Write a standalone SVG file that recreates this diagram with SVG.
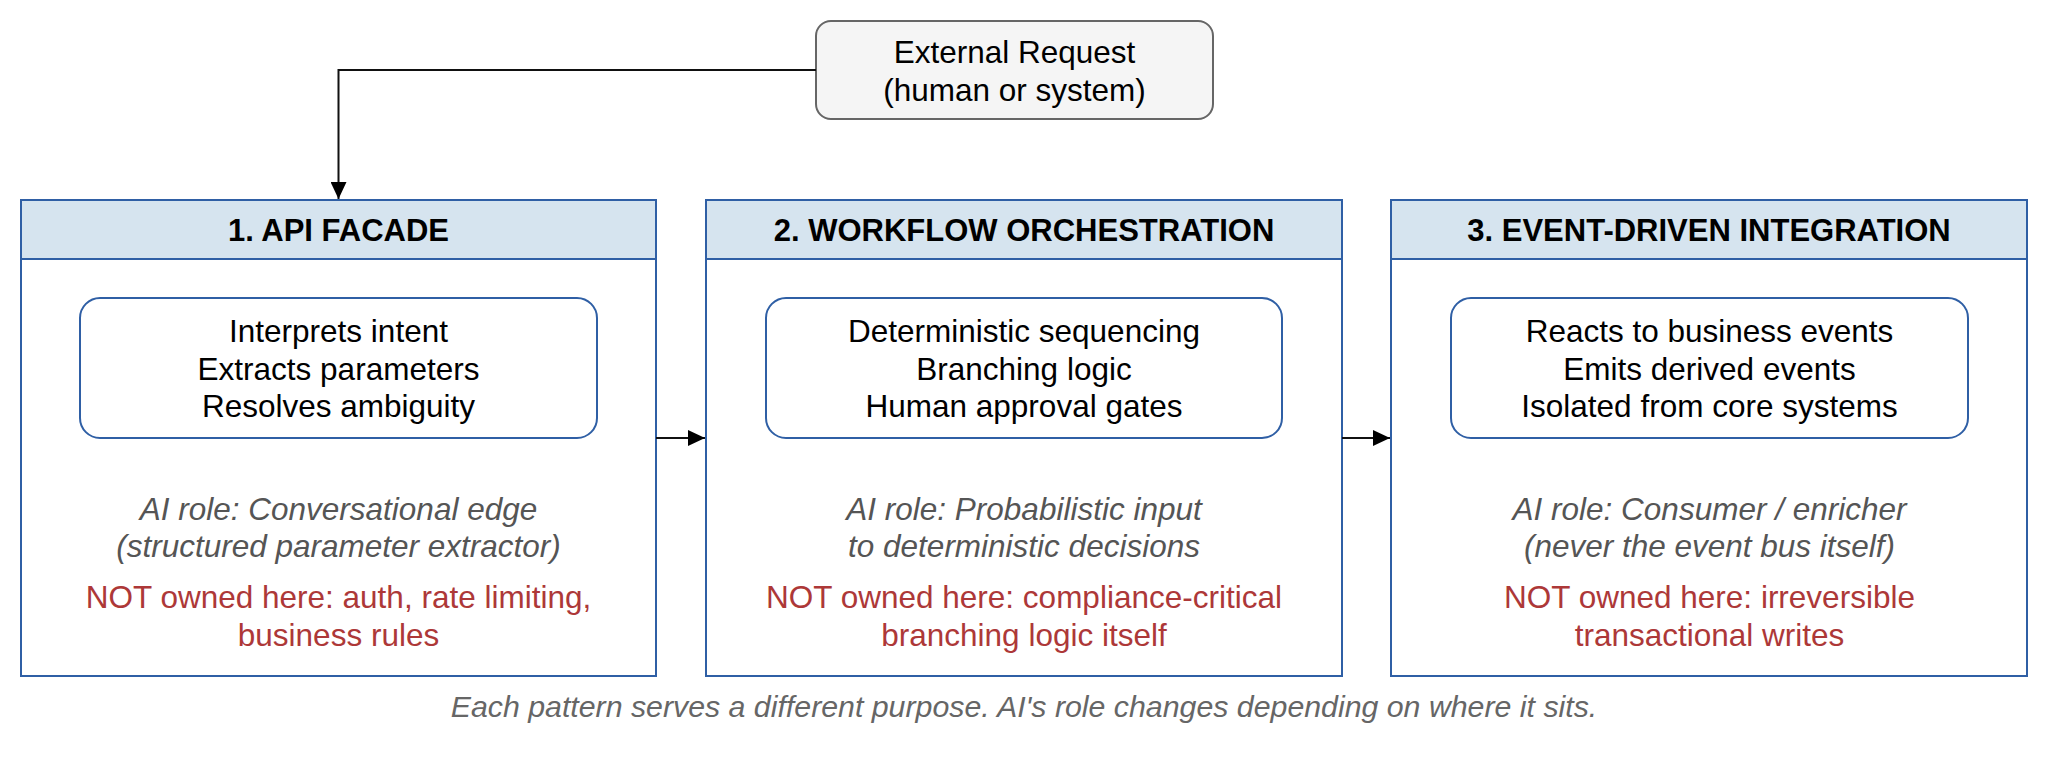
<svg xmlns="http://www.w3.org/2000/svg" width="2048" height="757" viewBox="0 0 2048 757">
<defs>
<marker id="arr" markerWidth="17" markerHeight="16" refX="17" refY="8" orient="auto" markerUnits="userSpaceOnUse">
<path d="M0,0 L17,8 L0,16 Z" fill="#000"/>
</marker>
<style>
text{font-family:"Liberation Sans",Arial,Helvetica,sans-serif;text-anchor:middle}
.frame{fill:#fff;stroke:#2f5fa5;stroke-width:2}
.hdr{fill:#d6e4ef;stroke:#2f5fa5;stroke-width:2}
.inner{fill:#fff;stroke:#2f5fa5;stroke-width:2}
.ht{font-size:31px;font-weight:bold;fill:#000}
.bt{font-size:31.5px;fill:#000}
.it{font-size:31.5px;font-style:italic;fill:#555}
.rt{font-size:31.5px;fill:#ad3838}
.conn{fill:none;stroke:#111;stroke-width:2}
</style>
</defs>
<rect width="2048" height="757" fill="#fff"/>

<g id="external-request">
<rect x="816" y="21" width="397" height="98" rx="15" ry="15" fill="#f5f5f5" stroke="#666" stroke-width="2"/>
<text class="bt" x="1014.5" y="62.5">External Request</text>
<text class="bt" x="1014.5" y="100.5">(human or system)</text>
</g>

<g id="api-facade">
<rect class="frame" x="21" y="200" width="635" height="476"/>
<rect class="hdr" x="21" y="200" width="635" height="59"/>
<text class="ht" x="338.5" y="240.5">1. API FACADE</text>
<rect class="inner" x="80" y="298" width="517" height="140" rx="20" ry="20"/>
<text class="bt" x="338.5" y="342">Interprets intent</text>
<text class="bt" x="338.5" y="379.5">Extracts parameters</text>
<text class="bt" x="338.5" y="417">Resolves ambiguity</text>
<text class="it" x="338.5" y="520">AI role: Conversational edge</text>
<text class="it" x="338.5" y="557">(structured parameter extractor)</text>
<text class="rt" x="338.5" y="608">NOT owned here: auth, rate limiting,</text>
<text class="rt" x="338.5" y="645.5">business rules</text>
</g>

<g id="workflow-orchestration">
<rect class="frame" x="706" y="200" width="636" height="476"/>
<rect class="hdr" x="706" y="200" width="636" height="59"/>
<text class="ht" x="1024" y="240.5">2. WORKFLOW ORCHESTRATION</text>
<rect class="inner" x="766" y="298" width="516" height="140" rx="20" ry="20"/>
<text class="bt" x="1024" y="342">Deterministic sequencing</text>
<text class="bt" x="1024" y="379.5">Branching logic</text>
<text class="bt" x="1024" y="417">Human approval gates</text>
<text class="it" x="1024" y="520">AI role: Probabilistic input</text>
<text class="it" x="1024" y="557">to deterministic decisions</text>
<text class="rt" x="1024" y="608">NOT owned here: compliance-critical</text>
<text class="rt" x="1024" y="645.5">branching logic itself</text>
</g>

<g id="event-driven-integration">
<rect class="frame" x="1391" y="200" width="636" height="476"/>
<rect class="hdr" x="1391" y="200" width="636" height="59"/>
<text class="ht" x="1709" y="240.5">3. EVENT-DRIVEN INTEGRATION</text>
<rect class="inner" x="1451" y="298" width="517" height="140" rx="20" ry="20"/>
<text class="bt" x="1709.5" y="342">Reacts to business events</text>
<text class="bt" x="1709.5" y="379.5">Emits derived events</text>
<text class="bt" x="1709.5" y="417">Isolated from core systems</text>
<text class="it" x="1709.5" y="520">AI role: Consumer / enricher</text>
<text class="it" x="1709.5" y="557">(never the event bus itself)</text>
<text class="rt" x="1709.5" y="608">NOT owned here: irreversible</text>
<text class="rt" x="1709.5" y="645.5">transactional writes</text>
</g>

<g id="connectors">
<path class="conn" d="M816,70 L338.5,70 L338.5,199" marker-end="url(#arr)"/>
<path class="conn" d="M656,438 L705,438" marker-end="url(#arr)"/>
<path class="conn" d="M1342,438 L1390,438" marker-end="url(#arr)"/>
</g>

<text id="footer" x="1024" y="717" style="font-size:30.3px;font-style:italic;fill:#666">Each pattern serves a different purpose. AI's role changes depending on where it sits.</text>
</svg>
